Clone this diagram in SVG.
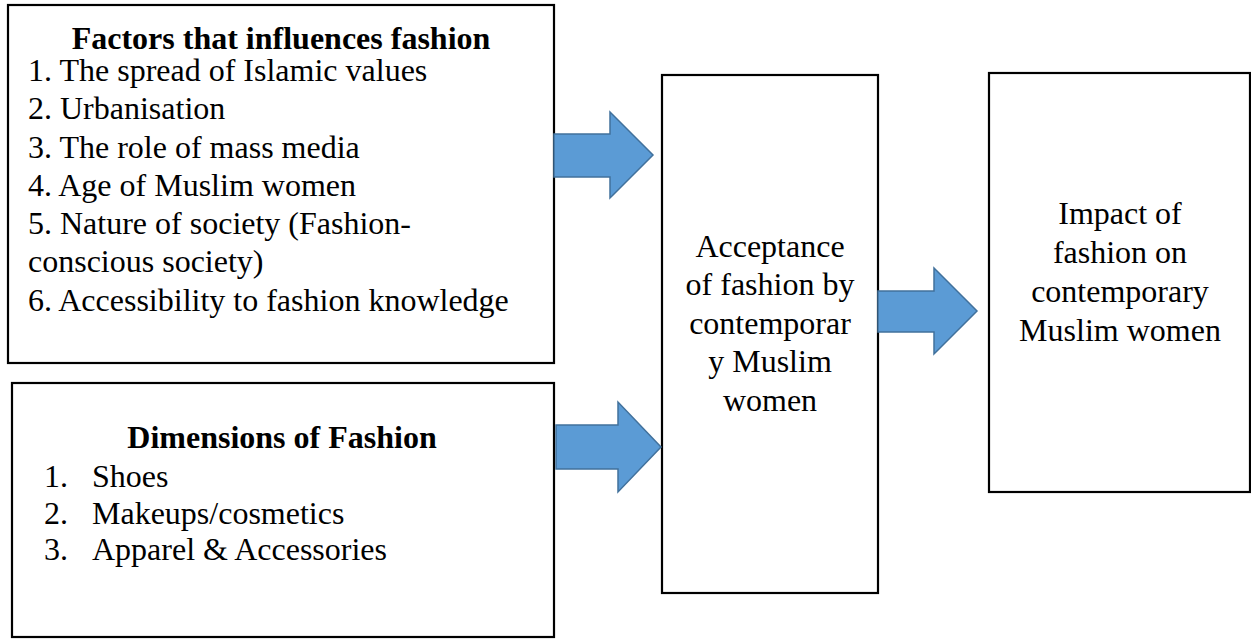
<svg xmlns="http://www.w3.org/2000/svg" width="1251" height="639" viewBox="0 0 1251 639">
<style>
.box{fill:#fff;stroke:#000;stroke-width:2.2}
text{font-family:'Liberation Serif','Times New Roman',serif;font-size:32px;fill:#000}
.b{font-weight:bold}
.c{text-anchor:middle}
.arr{fill:#5B9BD5;stroke:#41719C;stroke-width:1.5;stroke-linejoin:miter}
</style>
<rect width="1251" height="639" fill="#fff"/>
<g id="factors">
<rect class="box" x="8" y="5" width="546" height="358"/>
<text class="b c" x="281" y="49">Factors that influences fashion</text>
<text x="28" y="81">1. The spread of Islamic values</text>
<text x="28" y="119">2. Urbanisation</text>
<text x="28" y="158">3. The role of mass media</text>
<text x="28" y="196">4. Age of Muslim women</text>
<text x="28" y="234">5. Nature of society (Fashion-</text>
<text x="28" y="272">conscious society)</text>
<text x="28" y="311">6. Accessibility to fashion knowledge</text>
</g>
<g id="dimensions">
<rect class="box" x="12" y="383" width="542" height="254"/>
<text class="b c" x="282" y="448">Dimensions of Fashion</text>
<text x="44" y="487">1.</text><text x="92" y="487">Shoes</text>
<text x="44" y="524">2.</text><text x="92" y="524">Makeups/cosmetics</text>
<text x="44" y="560">3.</text><text x="92" y="560">Apparel &amp; Accessories</text>
</g>
<g id="acceptance">
<rect class="box" x="662" y="75" width="216" height="518"/>
<text class="c" x="770" y="257">Acceptance</text>
<text class="c" x="770" y="295">of fashion by</text>
<text class="c" x="770" y="334">contemporar</text>
<text class="c" x="770" y="372">y Muslim</text>
<text class="c" x="770" y="411">women</text>
</g>
<g id="impact">
<rect class="box" x="989" y="73" width="261" height="419"/>
<text class="c" x="1120" y="224">Impact of</text>
<text class="c" x="1120" y="263">fashion on</text>
<text class="c" x="1120" y="302">contemporary</text>
<text class="c" x="1120" y="341">Muslim women</text>
</g>
<g id="connectors">
<polygon class="arr" points="554,134 610,134 610,112 653,155 610,198 610,177 554,177"/>
<polygon class="arr" points="556,425 618,425 618,402 661,447 618,492 618,469 556,469"/>
<polygon class="arr" points="878,291 934,291 934,268 977,311 934,354 934,332 878,332"/>
</g>
</svg>
